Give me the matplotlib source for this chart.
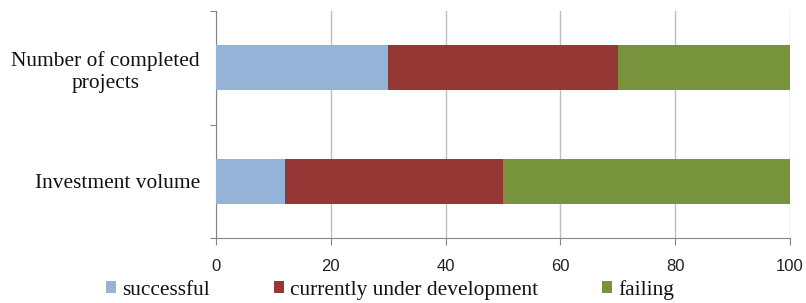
import matplotlib
matplotlib.use("Agg")
import matplotlib.pyplot as plt
from matplotlib.font_manager import FontProperties

plt.rcParams["font.family"] = ["Liberation Serif", "DejaVu Serif"]

categories = ["Investment volume", "Number of completed\nprojects"]
series_names = ["successful", "currently under development", "failing"]
successful = [12, 30]
under_dev = [38, 40]
failing = [50, 30]
xticks = [0, 20, 40, 60, 80, 100]

colors = ["#95B3D7", "#953735", "#77933C"]

fig = plt.figure(figsize=(8.06, 3.03), dpi=100)
ax = fig.add_axes([216/806, 1-238/303, (790-216)/806, (238-11)/303])

y = list(range(len(categories)))
left = [0]*len(categories)
for vals, name, c in zip([successful, under_dev, failing], series_names, colors):
    ax.barh(y, vals, left=left, height=0.4, color=c, label=name, zorder=3)
    left = [l + v for l, v in zip(left, vals)]

ax.set_xlim(0, 100)
ax.set_ylim(-0.5, 1.5)
ax.set_xticks(xticks)
ax.set_xticklabels([str(t) for t in xticks], fontfamily="Liberation Sans", fontsize=12, color="#222222")
ax.set_yticks([-0.5, 0.5, 1.5], minor=False)
ax.set_yticklabels([])
ax.set_yticks(y, minor=True)
ax.set_yticklabels(categories, minor=True, fontfamily="Liberation Serif", fontsize=15.4,
                   ha="right", multialignment="center", color="#111111")
ax.tick_params(axis="y", which="minor", length=0, pad=11.5)
ax.tick_params(axis="y", which="major", length=4.5, color="#868686", direction="out")
ax.tick_params(axis="x", length=5, color="#868686", direction="out", pad=10)

ax.grid(axis="x", color="#BFBFBF", linewidth=1, zorder=0)
for s in ["top", "right"]:
    ax.spines[s].set_visible(False)
for s in ["left", "bottom"]:
    ax.spines[s].set_color("#868686")

leg = fig.legend(loc="center", bbox_to_anchor=(0.484, 1-290/303), ncol=3, frameon=False,
                 prop=FontProperties(family="Liberation Serif", size=15.4),
                 handlelength=0.47, handleheight=0.47, handletextpad=0.28, columnspacing=3.0,
                 borderpad=0, borderaxespad=0)
for t in leg.get_texts():
    t.set_color("#111111")

fig.savefig("out.png", dpi=100)
